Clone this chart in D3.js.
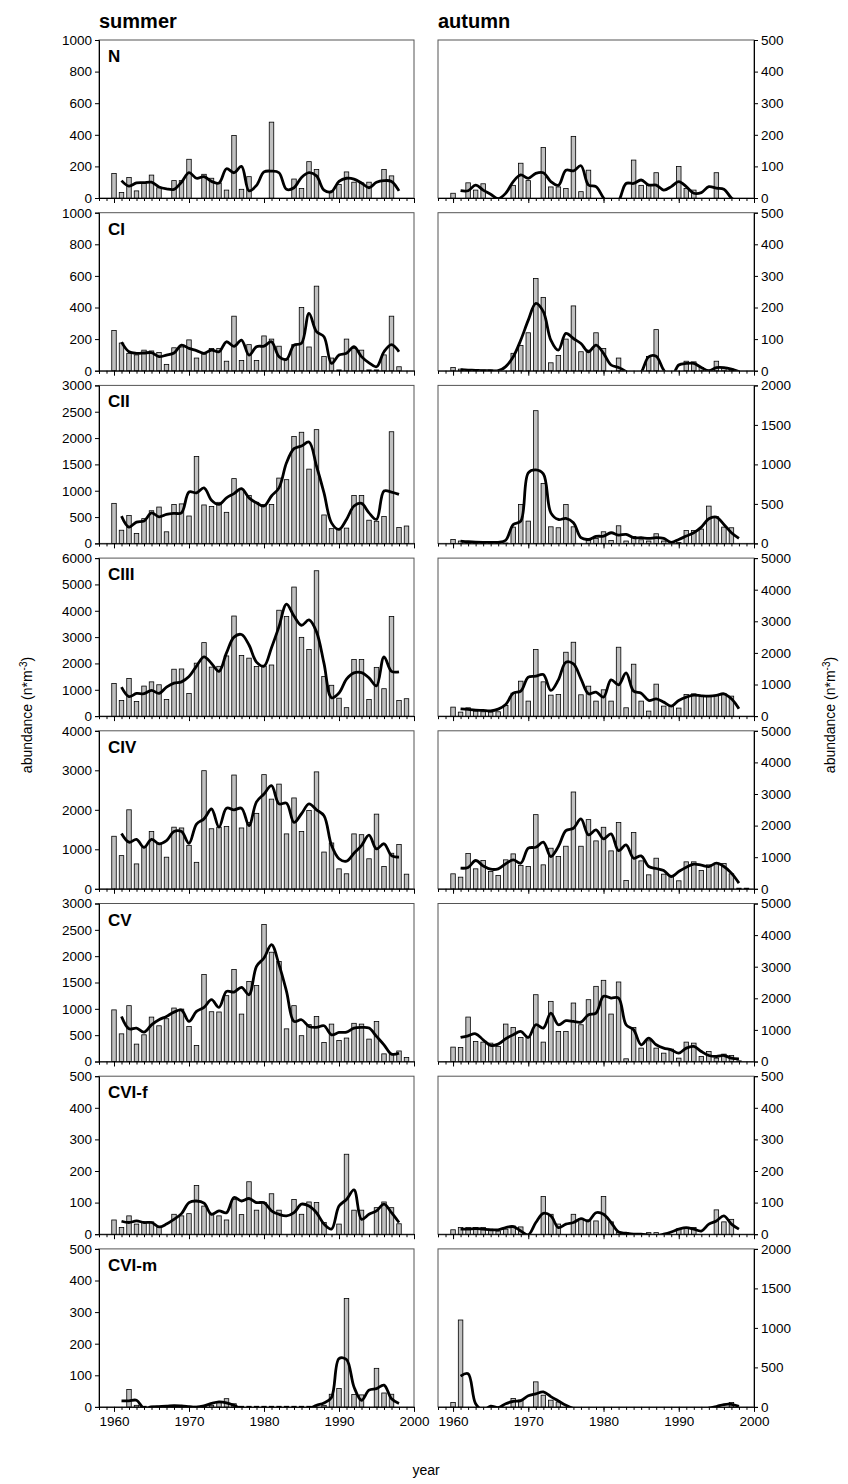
<!DOCTYPE html>
<html><head><meta charset="utf-8">
<script src="https://cdn.jsdelivr.net/npm/d3@7"></script>
<style>body{margin:0;background:#fff}svg{display:block}</style>
</head><body>
<svg id="chart" width="848" height="1484"></svg>
<script>
const barYears = d3.range(1960, 2000);
const lineYears = d3.range(1961, 1999);
const seasons = ["summer", "autumn"];
const stages = ["N", "CI", "CII", "CIII", "CIV", "CV", "CVI-f", "CVI-m"];
const leftMax = [1000, 1000, 3000, 6000, 4000, 3000, 500, 500];
const leftStep = [200, 200, 500, 1000, 1000, 500, 100, 100];
const rightMax = [500, 500, 2000, 5000, 5000, 5000, 500, 2000];
const rightStep = [100, 100, 500, 1000, 1000, 1000, 100, 500];
const xTickLabels = [1960, 1970, 1980, 1990, 2000];

const nSummer = [155,35,130,45,97,145,65,0,110,110, 245,0,150,125,95,50,395,55,135,0, 0,480,0,0,120,60,230,180,0,40, 85,165,100,95,100,0,180,140,0,0];
const nSummerLine = [110,75,95,97,100,70,58,55,100,160, 125,135,105,95,185,160,200,45,80,165, 170,160,55,65,130,160,140,50,40,105, 125,120,95,65,100,110,105,45];
const nAutumn = [15,0,48,25,45,0,0,0,40,110, 55,0,160,35,35,30,195,20,88,0, 0,0,0,0,120,40,40,80,0,0, 100,30,25,0,0,80,0,0,0,0];
const nAutumnLine = [23,23,41,25,12,-2,15,52,73,62, 78,80,52,40,88,86,102,41,36,0, -30,-10,46,46,57,41,41,25,36,52, 36,15,17,36,31,28,0,-15];

const ciSummer = [255,175,110,100,130,125,115,40,145,150, 195,80,105,140,140,60,345,65,165,65, 220,200,155,75,165,400,150,535,90,80, 5,200,140,130,5,5,100,345,25,0];
const ciSummerLine = [181,120,110,112,114,89,99,112,162,141, 127,110,131,120,183,154,194,99,152,156, 183,89,72,162,173,363,247,215,46,99, 110,152,89,50,25,120,165,120];
const ciAutumn = [10,5,2,2,2,2,0,0,55,80, 120,292,232,25,48,100,205,60,65,120, 70,0,40,0,0,0,45,130,0,0, 0,30,28,10,0,30,10,5,0,0];
const ciAutumnLine = [3,2,1,0,0,0,13,44,97,160, 213,187,97,65,118,102,86,60,81,55, 18,10,-3,-25,-5,44,46,2,-19,18, 23,23,10,0,10,10,5,-3];

const ciiSummer = [760,250,530,190,470,620,690,220,740,750, 520,1650,730,700,780,590,1230,1020,910,780, 740,740,1240,1210,2030,2110,1410,2160,540,280, 260,290,910,910,440,420,510,2120,300,330];
const ciiSummerLine = [519,310,405,425,580,505,550,570,580,975, 960,1055,820,740,865,945,1040,865,770,710, 900,1055,1530,1800,1850,1925,1470,960,390,265, 455,710,760,580,455,995,975,930];
const ciiAutumn = [50,30,20,15,10,10,5,5,206,493, 282,1680,758,210,198,493,210,0,38,63, 147,38,223,30,88,46,30,122,30,0, 10,164,164,181,472,337,206,198,0,0];
const ciiAutumnLine = [30,21,15,13,13,13,40,240,282,893, 930,880,387,303,316,261,72,50,88,93, 135,105,114,72,72,63,72,63,13,50, 93,135,206,312,333,240,135,63];

const ciiiSummer = [1240,590,1430,555,1140,1300,1190,630,1780,1790, 860,2010,2790,1860,1890,2285,3800,2300,2200,1880, 1900,1940,4020,3780,4900,2990,2530,5520,1500,1170, 680,320,2150,2150,630,1850,1040,3780,590,660];
const ciiiSummerLine = [1100,740,860,850,980,860,1100,1250,1300,1500, 1900,2250,2000,1700,2400,3000,3100,2700,2050,1900, 2600,3400,4250,3800,3450,3650,3200,2000,700,880, 1400,1640,1650,1450,1150,2250,1700,1680];
const ciiiAutumn = [284,126,263,158,137,126,137,337,726,1105, 474,2105,1084,663,684,2021,2337,674,947,474, 832,474,2179,263,1642,474,158,1011,316,337, 253,684,705,621,621,653,705,632,0,0];
const ciiiAutumnLine = [232,210,190,180,168,221,368,726,790,1232, 1263,1316,811,1147,1705,1653,1179,705,758,600, 1147,990,1368,790,726,495,547,442,316,495, 600,663,642,632,653,705,547,232];

const civSummer = [1330,840,2000,630,1050,1450,1140,800,1560,1540, 1100,670,2990,1520,1560,1575,2880,1540,1680,1910, 2890,2270,2650,1390,2300,1450,1980,2960,930,1160, 505,380,1390,1370,760,1890,565,900,1120,370];
const civSummerLine = [1400,1180,1250,1050,1250,1140,1220,1450,1450,1150, 1640,1770,2020,1560,2040,2000,2040,1600,2200,2400, 2610,2150,2170,1680,1900,2150,2000,1850,1100,760, 700,900,1095,1360,1010,1140,840,800];
const civAutumn = [474,368,1116,632,895,547,421,916,1105,737, 705,2347,758,1284,1021,1347,3063,1347,2189,1516, 1947,1200,2095,263,1779,884,442,968,463,400, 253,853,853,579,758,811,800,474,20,20];
const civAutumnLine = [653,674,895,726,621,632,790,916,811,1284, 1316,1474,1021,1337,1842,1916,2210,1705,1863,1579, 1737,1211,1389,968,1042,705,642,579,389,547, 684,779,747,705,811,705,495,179];

const cvSummer = [980,525,1060,330,507,843,678,812,1015,995, 665,305,1650,945,940,1250,1745,900,1520,1445, 2600,2075,1900,620,1060,490,700,855,360,710, 400,445,725,710,425,760,145,130,200,75];
const cvSummerLine = [856,620,634,558,697,793,856,938,976,761, 951,1027,1173,1027,1332,1319,1408,1268,1807,1966, 2220,1839,1332,761,793,666,647,678,507,552, 558,634,647,634,476,317,140,158];
const cvAutumn = [455,444,1406,634,613,581,476,1184,1078,761, 761,2114,613,1903,951,951,1850,1163,1956,2378, 2569,1501,2516,85,1078,423,655,423,264,391, 106,613,581,159,317,106,233,190,21,0];
const cvAutumnLine = [761,814,878,687,507,550,719,846,951,761, 1163,1057,1533,1163,1290,1268,1247,1480,1533,2061, 2008,2008,1163,1004,529,740,529,423,370,264, 423,476,317,190,159,190,106,85];

const cvifSummer = [45,21,58,32,39,39,21,0,63,58, 65,154,89,66,58,45,110,62,166,76, 100,128,76,0,110,63,102,100,37,0, 32,253,76,76,0,84,102,84,33,0];
const cvifSummerLine = [41,37,42,37,37,23,32,47,65,100, 105,98,63,74,68,116,105,113,100,100, 74,63,58,68,95,89,68,32,16,89, 110,140,47,63,74,95,68,37];
const cvifAutumn = [14,21,21,21,21,16,10,16,26,23, 0,0,119,63,32,0,63,49,45,42, 119,39,7,5,0,0,5,5,0,0, 16,21,21,0,0,77,39,47,0,0];
const cvifAutumnLine = [16,16,18,16,14,14,21,24,10,-2, 37,66,58,21,32,37,49,42,68,63, 37,7,3,0,0,-3,-5,0,7,16, 21,16,10,32,42,58,32,16];

const cvimSummer = [0,0,55,5,2,2,2,2,2,2, 2,2,2,5,13,26,10,2,2,2, 2,2,2,2,2,2,2,0,5,40, 58,343,39,38,0,122,44,40,0,0];
const cvimSummerLine = [19,19,21,-5,0,1,2,4,3,1, -1,3,11,16,13,5,-5,-5,-5,-5, -5,-5,-5,-5,-5,-5,5,12,30,153, 150,63,21,53,58,69,26,11];
const cvimAutumn = [55,1100,0,0,0,0,0,0,106,85, 0,317,148,85,63,0,0,0,0,0, 0,0,0,0,0,0,0,0,0,0, 0,0,0,0,0,0,0,55,0,0];
const cvimAutumnLine = [390,420,40,-40,10,-10,40,70,80,140, 165,190,130,75,20,-20,-40,-40,-40,-40, -40,-40,-40,-40,-40,-40,-40,-40,-40,-40, -40,-40,-40,-15,5,30,32,8];

const summerBars = [nSummer, ciSummer, ciiSummer, ciiiSummer, civSummer, cvSummer, cvifSummer, cvimSummer];
const summerLines = [nSummerLine, ciSummerLine, ciiSummerLine, ciiiSummerLine, civSummerLine, cvSummerLine, cvifSummerLine, cvimSummerLine];
const autumnBars = [nAutumn, ciAutumn, ciiAutumn, ciiiAutumn, civAutumn, cvAutumn, cvifAutumn, cvimAutumn];
const autumnLines = [nAutumnLine, ciAutumnLine, ciiAutumnLine, ciiiAutumnLine, civAutumnLine, cvAutumnLine, cvifAutumnLine, cvimAutumnLine];

// ---------- layout ----------
const svg = d3.select("#chart");
const numFont = "'Liberation Sans',Arial,sans-serif";
const txtFont = "'Liberation Sans',Arial,sans-serif";
const cols = [{x0: 99, x1: 414, side: "left"}, {x0: 438, x1: 754, side: "right"}];
const rowTop0 = 40, rowPitch = 172.7, panelH = 158;

svg.append("defs");

function drawPanel(ci, ri, bars, line, max, step) {
  const {x0, x1, side} = cols[ci];
  const top = rowTop0 + ri * rowPitch, bottom = top + panelH;
  const x = d3.scaleLinear().domain([1958, 2000]).range([x0, x1]);
  const y = d3.scaleLinear().domain([0, max]).range([bottom, top]);
  const g = svg.append("g");
  const bw = (x(1961) - x(1960)) * 0.6;

  g.append("rect").attr("x", x0).attr("y", top).attr("width", x1 - x0).attr("height", panelH)
    .attr("fill", "none").attr("stroke", "#555").attr("stroke-width", 1);

  g.selectAll("rect.bar").data(barYears.map((yr, i) => ({yr, v: bars[i]})).filter(d => d.v > 0))
    .join("rect").attr("class", "bar")
    .attr("x", d => x(d.yr) - bw / 2).attr("width", bw)
    .attr("y", d => y(d.v)).attr("height", d => bottom - y(d.v))
    .attr("fill", "#c0c0c0").attr("stroke", "#000").attr("stroke-width", 0.8);

  const cid = `clip-${ci}-${ri}`;
  svg.select("defs").append("clipPath").attr("id", cid)
    .append("rect").attr("x", x0).attr("y", top).attr("width", x1 - x0).attr("height", panelH);
  const lg = d3.line().x(d => x(d.yr)).y(d => y(d.v)).curve(d3.curveCatmullRom.alpha(0.5));
  g.append("path").datum(lineYears.map((yr, i) => ({yr, v: line[i]})))
    .attr("d", lg).attr("fill", "none").attr("stroke", "#000").attr("stroke-width", 2.8)
    .attr("stroke-linejoin", "round").attr("clip-path", `url(#${cid})`);

  const ya = (side === "left" ? d3.axisLeft(y) : d3.axisRight(y))
    .tickValues(d3.range(0, max + 1, step)).tickSize(4).tickPadding(3).tickFormat(d3.format("d"));
  const yg = g.append("g").attr("transform", `translate(${side === "left" ? x0 : x1},0)`).call(ya);
  yg.select(".domain").attr("stroke", "#000");
  yg.selectAll("text").style("font-family", numFont).style("font-size", "13.5px").attr("fill", "#000");

  const xMinor = d3.axisBottom(x).tickValues(d3.range(1958, 2001)).tickSize(3).tickFormat("");
  const xg = g.append("g").attr("transform", `translate(0,${bottom})`).call(xMinor);
  xg.select(".domain").attr("stroke", "#000");
  const isBottom = ri === stages.length - 1;
  const xMajor = d3.axisBottom(x).tickValues(xTickLabels).tickSize(5).tickPadding(5)
    .tickFormat(isBottom ? d3.format("d") : () => "");
  const xg2 = g.append("g").attr("transform", `translate(0,${bottom})`).call(xMajor);
  xg2.select(".domain").remove();
  xg2.selectAll("text").style("font-family", numFont).style("font-size", "13.5px").attr("fill", "#000");

  if (ci === 0) {
    g.append("text").attr("x", x0 + 9).attr("y", top + 22).text(stages[ri])
      .style("font-family", numFont).style("font-weight", "bold").style("font-size", "17px");
  }
}

stages.forEach((s, ri) => {
  drawPanel(0, ri, summerBars[ri], summerLines[ri], leftMax[ri], leftStep[ri]);
  drawPanel(1, ri, autumnBars[ri], autumnLines[ri], rightMax[ri], rightStep[ri]);
});

seasons.forEach((s, i) => {
  svg.append("text").attr("x", cols[i].x0).attr("y", 28).text(s)
    .style("font-family", txtFont).style("font-weight", "bold").style("font-size", "20px");
});

function yTitle(xc) {
  const t = svg.append("text").attr("transform", `translate(${xc},715) rotate(-90)`)
    .attr("text-anchor", "middle").style("font-family", txtFont).style("font-size", "14px");
  t.append("tspan").text("abundance (n*m");
  t.append("tspan").attr("dy", -5).style("font-size", "10px").text("-3");
  t.append("tspan").attr("dy", 5).text(")");
}
yTitle(32);
yTitle(835);
svg.append("text").attr("x", 426).attr("y", 1475).attr("text-anchor", "middle")
  .style("font-family", txtFont).style("font-size", "14px").text("year");
</script>
</body></html>
